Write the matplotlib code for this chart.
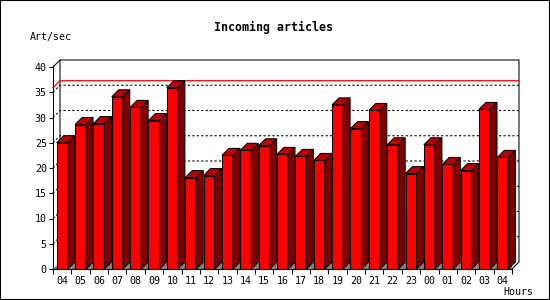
import numpy as np
import matplotlib
matplotlib.use('Agg')
import matplotlib.pyplot as plt
from matplotlib.patches import Polygon, Rectangle

# data
hours = ['04', '05', '06', '07', '08', '09', '10', '11', '12', '13', '14', '15', '16',
         '17', '18', '19', '20', '21', '22', '23', '00', '01', '02', '03', '04']
rate = [25.0, 28.6, 28.8, 34.1, 32.0, 29.4, 35.9, 18.1, 18.5, 22.5, 23.5, 24.4, 22.7,
        22.3, 21.5, 32.5, 27.8, 31.4, 24.6, 18.9, 24.6, 20.7, 19.5, 31.6, 22.1]
y_ticks = [0, 5, 10, 15, 20, 25, 30, 35, 40]

W, H, DPI = 550, 300, 100
MONO = 'DejaVu Sans Mono'

fig = plt.figure(figsize=(W / DPI, H / DPI), dpi=DPI)
ax_l, ax_b, ax_w, ax_h = 53, 31, 459, 202   # axes box in pixels
ax = fig.add_axes([ax_l / W, ax_b / H, ax_w / W, ax_h / H])

n = len(rate)
xmin, xmax = -0.5, n - 0.5
ymin, ymax = 0, 40
ax.set_xlim(xmin, xmax)
ax.set_ylim(ymin, ymax)

# 3D depth (7 px) expressed in data units
dx = 7 * (xmax - xmin) / ax_w
dy = 7 * (ymax - ymin) / ax_h

lw = 0.75
# back wall frame
ax.plot([xmin + dx, xmin + dx, xmax + dx, xmax + dx, xmax],
        [ymin + dy, ymax + dy, ymax + dy, ymin + dy, ymin],
        color='black', lw=lw, clip_on=False, zorder=1)
ax.plot([xmin, xmin + dx], [ymax, ymax + dy], color='black', lw=lw, clip_on=False, zorder=1)

# dotted grid on the back wall
for v in y_ticks[1:-1]:
    ax.plot([xmin, xmin + dx, xmax + dx], [v, v + dy, v + dy], color='black',
            lw=0.8, ls=(0, (2, 2)), clip_on=False, zorder=1)

# red line at the maximum
vmax = max(rate)
ax.plot([xmin, xmin + dx, xmax + dx], [vmax, vmax + dy, vmax + dy], color='red',
        lw=0.9, clip_on=False, zorder=1.5)

# floor
ax.add_patch(Polygon([(xmin, 0), (xmax, 0), (xmax + dx, dy), (xmin + dx, dy)],
                     closed=True, facecolor='#808080', edgecolor='none', zorder=1.6))

# bars
bw = 0.6
for i, v in enumerate(rate):
    z = 2 + i * 0.01
    x0, x1 = i - bw / 2, i + bw / 2
    ax.bar(i, v, width=bw, color='#ff0000', edgecolor='black', lw=lw, zorder=z)
    ax.add_patch(Polygon([(x0, v), (x1, v), (x1 + dx, v + dy), (x0 + dx, v + dy)],
                         closed=True, facecolor='#c00000', edgecolor='black', lw=lw,
                         zorder=z, clip_on=False))
    ax.add_patch(Polygon([(x1, 0), (x1 + dx, dy), (x1 + dx, v + dy), (x1, v)],
                         closed=True, facecolor='#800000', edgecolor='black', lw=lw,
                         zorder=z, clip_on=False))

# axes styling
for s in ['top', 'right']:
    ax.spines[s].set_visible(False)
for s in ['left', 'bottom']:
    ax.spines[s].set_linewidth(lw)
    ax.spines[s].set_zorder(5)
ax.set_facecolor('none')

ax.set_yticks(y_ticks)
ax.set_yticklabels([str(t) for t in y_ticks], family=MONO, fontsize=7.2)
ax.tick_params(axis='y', length=3, width=lw, pad=1.5)

ax.set_xticks(np.arange(n))
ax.set_xticklabels(hours, family=MONO, fontsize=7.2)
ax.set_xticks(np.arange(n + 1) - 0.5, minor=True)
ax.tick_params(axis='x', which='major', length=0, pad=5)
ax.tick_params(axis='x', which='minor', length=3.5, width=lw)

# texts
fig.text(273.5 / W, 1 - 27 / H, 'Incoming articles', ha='center', va='center',
         family=MONO, fontweight='bold', fontsize=8.4)
fig.text(30 / W, 1 - 37 / H, 'Art/sec', ha='left', va='center', family=MONO, fontsize=7.2)
fig.text(533 / W, 1 - 292 / H, 'Hours', ha='right', va='center', family=MONO, fontsize=7.2)

# outer border
fig.patches.append(Rectangle((0, 0), 1, 1, transform=fig.transFigure, fill=False,
                             edgecolor='black', lw=1.5))

fig.savefig('out.png', dpi=DPI)
